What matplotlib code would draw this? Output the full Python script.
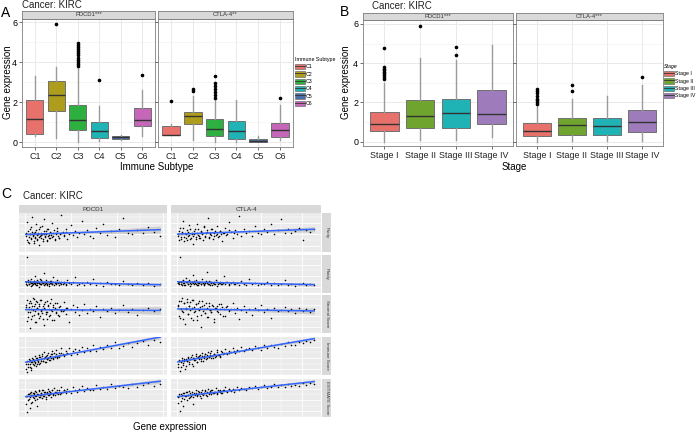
import numpy as np
import matplotlib.pyplot as plt
from matplotlib.patches import Patch
from matplotlib.lines import Line2D
from matplotlib.ticker import MultipleLocator, FixedLocator

plt.rcParams['font.family'] = ['Liberation Sans', 'DejaVu Sans']

W, H = 697, 433

# ---------------- panel A : expression by immune subtype
subtypes = ['C1', 'C2', 'C3', 'C4', 'C5', 'C6']
sub_colors = ['#E8716B', '#AE9D1C', '#2DB040', '#1FB3B5', '#4C6FA8', '#C566B8']

a_pd_med = [1.17, 2.33, 1.10, 0.57, 0.23, 1.08]
a_pd_q1 = [0.40, 1.55, 0.62, 0.22, 0.15, 0.82]
a_pd_q3 = [2.12, 3.03, 1.85, 0.98, 0.32, 1.72]
a_pd_lo = [0.32, 0.22, 0.00, 0.03, 0.12, 0.28]
a_pd_hi = [3.32, 3.75, 3.70, 1.82, 0.36, 2.62]
a_pd_out = [[], [5.9], [3.8, 3.9, 4.0, 4.1, 4.2, 4.35, 4.45, 4.55, 4.65, 4.75, 4.85, 4.95],
            [3.1], [], [3.35]]

a_ct_med = [0.37, 1.32, 0.65, 0.55, 0.05, 0.62]
a_ct_q1 = [0.35, 0.88, 0.30, 0.13, 0.02, 0.23]
a_ct_q3 = [0.82, 1.50, 1.17, 1.05, 0.17, 0.97]
a_ct_lo = [0.35, 0.08, 0.00, 0.00, 0.00, 0.12]
a_ct_hi = [0.90, 2.32, 2.10, 2.08, 0.28, 1.85]
a_ct_out = [[2.03], [2.53, 2.65], [2.2, 2.35, 2.5, 2.65, 2.8, 2.95, 3.28], [], [], [2.2]]

# ---------------- panel B : expression by stage
stages = ['Stage I', 'Stage II', 'Stage III', 'Stage IV']
stage_colors = ['#E8716B', '#6FA52F', '#1FB3B5', '#9E7BBB']

b_pd_med = [0.90, 1.33, 1.45, 1.39]
b_pd_q1 = [0.53, 0.68, 0.68, 0.90]
b_pd_q3 = [1.53, 2.13, 2.16, 2.64]
b_pd_lo = [0.00, 0.08, 0.08, 0.25]
b_pd_hi = [3.00, 4.25, 4.15, 4.93]
b_pd_out = [[3.18, 3.3, 3.4, 3.5, 3.57, 3.65, 3.72, 3.83, 4.76], [5.9], [4.42, 4.8], []]

b_ct_med = [0.54, 0.87, 0.80, 0.99]
b_ct_q1 = [0.29, 0.36, 0.36, 0.51]
b_ct_q3 = [0.94, 1.19, 1.19, 1.62]
b_ct_lo = [0.00, 0.03, 0.03, 0.05]
b_ct_hi = [1.80, 2.18, 2.35, 2.89]
b_ct_out = [[1.9, 2.0, 2.1, 2.2, 2.35, 2.5, 2.6, 2.7], [2.6, 2.89], [], [3.28]]

# ---------------- panel C : scores vs gene expression (scaled score, 0-1)
score_rows = ['Purity', 'Ploidy', 'Stromal Score', 'Immune Score', 'ESTIMATE Score']

pd_x = [0.02, 0.06, 0.09, 0.13, 0.17, 0.20, 0.24, 0.27, 0.31, 0.34,
        0.38, 0.41, 0.44, 0.48, 0.51, 0.55, 0.58, 0.62, 0.65, 0.69,
        0.72, 0.76, 0.80, 0.83, 0.87, 0.91, 0.95, 0.99, 1.03, 1.07,
        1.11, 1.16, 1.20, 1.25, 1.30, 1.35, 1.40, 1.46, 1.52, 1.58,
        1.64, 1.70, 1.77, 1.84, 1.92, 2.00, 2.08, 2.17, 2.26, 2.36,
        2.47, 2.58, 2.70, 2.83, 2.96, 3.10, 3.25, 3.40, 3.56, 3.73,
        3.90, 4.08, 4.27, 4.47, 4.68, 4.90, 5.13, 5.37, 5.62, 5.90,
        0.05, 0.11, 0.15, 0.19, 0.22, 0.26, 0.29, 0.33, 0.36, 0.40,
        0.43, 0.46, 0.50, 0.53, 0.57, 0.60, 0.64, 0.67, 0.70, 0.74,
        0.78, 0.81, 0.85, 0.89, 0.93, 0.97, 1.01, 1.05, 1.09, 1.14,
        1.18, 1.23, 1.28, 1.33, 1.38, 1.43, 1.49, 1.55, 1.68, 1.80]
pd_purity = [0.42, 0.78, 0.31, 0.55, 0.22, 0.47, 0.63, 0.36, 0.91, 0.44,
             0.28, 0.52, 0.39, 0.71, 0.34, 0.46, 0.18, 0.58, 0.41, 0.49,
             0.66, 0.33, 0.45, 0.84, 0.38, 0.53, 0.27, 0.60, 0.43, 0.35,
             0.50, 0.74, 0.40, 0.56, 0.30, 0.48, 0.62, 0.37, 0.45, 0.95,
             0.52, 0.41, 0.58, 0.33, 0.47, 0.69, 0.44, 0.55, 0.38, 0.50,
             0.80, 0.46, 0.57, 0.42, 0.35, 0.61, 0.49, 0.72, 0.44, 0.53,
             0.39, 0.60, 0.88, 0.50, 0.45, 0.56, 0.48, 0.64, 0.52, 0.42,
             0.50, 0.26, 0.38, 0.60, 0.45, 0.33, 0.52, 0.41, 0.24, 0.48,
             0.36, 0.57, 0.43, 0.30, 0.50, 0.39, 0.65, 0.44, 0.35, 0.47,
             0.29, 0.54, 0.40, 0.46, 0.32, 0.58, 0.42, 0.37, 0.51, 0.44,
             0.39, 0.49, 0.34, 0.45, 0.55, 0.41, 0.36, 0.48, 0.43, 0.52]
pd_ploidy = [0.28, 0.95, 0.22, 0.33, 0.25, 0.30, 0.19, 0.36, 0.27, 0.24,
             0.31, 0.45, 0.26, 0.21, 0.34, 0.29, 0.17, 0.27, 0.38, 0.23,
             0.30, 0.26, 0.52, 0.20, 0.28, 0.33, 0.24, 0.29, 0.18, 0.27,
             0.31, 0.25, 0.42, 0.22, 0.28, 0.26, 0.35, 0.21, 0.27, 0.30,
             0.24, 0.28, 0.20, 0.33, 0.26, 0.23, 0.29, 0.41, 0.22, 0.25,
             0.27, 0.20, 0.30, 0.24, 0.36, 0.22, 0.26, 0.19, 0.28, 0.23,
             0.25, 0.21, 0.32, 0.24, 0.20, 0.27, 0.22, 0.26, 0.18, 0.24,
             0.25, 0.30, 0.23, 0.28, 0.32, 0.26, 0.22, 0.29, 0.27, 0.31,
             0.24, 0.28, 0.26, 0.21, 0.30, 0.27, 0.25, 0.33, 0.23, 0.28,
             0.26, 0.30, 0.24, 0.27, 0.29, 0.22, 0.28, 0.25, 0.31, 0.26,
             0.24, 0.29, 0.27, 0.23, 0.28, 0.26, 0.30, 0.25, 0.27, 0.24]
pd_stromal = [0.75, 0.32, 0.88, 0.55, 0.68, 0.12, 0.80, 0.62, 0.45, 0.92,
              0.70, 0.58, 0.28, 0.83, 0.66, 0.50, 0.77, 0.40, 0.86, 0.60,
              0.52, 0.72, 0.20, 0.65, 0.81, 0.56, 0.38, 0.74, 0.63, 0.48,
              0.90, 0.59, 0.69, 0.34, 0.78, 0.54, 0.64, 0.44, 0.71, 0.60,
              0.57, 0.82, 0.50, 0.66, 0.30, 0.62, 0.73, 0.55, 0.68, 0.47,
              0.60, 0.76, 0.53, 0.64, 0.58, 0.70, 0.42, 0.62, 0.57, 0.67,
              0.52, 0.61, 0.74, 0.56, 0.63, 0.48, 0.60, 0.66, 0.58, 0.64,
              0.68, 0.42, 0.79, 0.55, 0.85, 0.36, 0.72, 0.60, 0.90, 0.48,
              0.76, 0.30, 0.66, 0.82, 0.52, 0.70, 0.44, 0.87, 0.58, 0.64,
              0.38, 0.77, 0.62, 0.50, 0.84, 0.56, 0.71, 0.46, 0.80, 0.60,
              0.34, 0.73, 0.65, 0.53, 0.78, 0.47, 0.69, 0.57, 0.61, 0.66]
pd_immune = [0.15, 0.38, 0.08, 0.30, 0.42, 0.22, 0.35, 0.12, 0.45, 0.28,
             0.40, 0.33, 0.50, 0.25, 0.44, 0.36, 0.52, 0.30, 0.47, 0.41,
             0.55, 0.38, 0.46, 0.60, 0.35, 0.50, 0.43, 0.58, 0.48, 0.40,
             0.54, 0.62, 0.45, 0.57, 0.50, 0.66, 0.48, 0.59, 0.53, 0.70,
             0.55, 0.49, 0.64, 0.58, 0.72, 0.52, 0.62, 0.68, 0.56, 0.66,
             0.75, 0.60, 0.70, 0.64, 0.80, 0.62, 0.74, 0.68, 0.78, 0.70,
             0.86, 0.72, 0.77, 0.84, 0.74, 0.83, 0.90, 0.80, 0.93, 0.88,
             0.30, 0.22, 0.36, 0.28, 0.40, 0.18, 0.34, 0.42, 0.26, 0.38,
             0.32, 0.45, 0.29, 0.40, 0.35, 0.48, 0.31, 0.43, 0.38, 0.50,
             0.36, 0.44, 0.47, 0.33, 0.52, 0.41, 0.46, 0.39, 0.50, 0.44,
             0.54, 0.42, 0.48, 0.56, 0.45, 0.51, 0.47, 0.58, 0.52, 0.55]
pd_estimate = [0.35, 0.55, 0.12, 0.60, 0.48, 0.25, 0.58, 0.65, 0.40, 0.53,
               0.62, 0.45, 0.68, 0.56, 0.30, 0.60, 0.52, 0.70, 0.57, 0.64,
               0.50, 0.72, 0.60, 0.55, 0.66, 0.48, 0.62, 0.74, 0.58, 0.65,
               0.53, 0.70, 0.61, 0.76, 0.57, 0.67, 0.63, 0.72, 0.60, 0.78,
               0.66, 0.70, 0.62, 0.75, 0.68, 0.64, 0.80, 0.70, 0.66, 0.74,
               0.82, 0.68, 0.76, 0.72, 0.70, 0.84, 0.74, 0.78, 0.73, 0.86,
               0.77, 0.82, 0.80, 0.76, 0.88, 0.80, 0.84, 0.90, 0.82, 0.87,
               0.55, 0.45, 0.60, 0.52, 0.62, 0.38, 0.57, 0.64, 0.50, 0.60,
               0.54, 0.66, 0.48, 0.61, 0.58, 0.68, 0.53, 0.63, 0.59, 0.70,
               0.56, 0.65, 0.60, 0.52, 0.67, 0.62, 0.58, 0.69, 0.61, 0.64,
               0.70, 0.57, 0.66, 0.62, 0.71, 0.60, 0.67, 0.64, 0.72, 0.68]

ct_x = [0.01, 0.03, 0.06, 0.08, 0.11, 0.13, 0.16, 0.18, 0.21, 0.24,
        0.26, 0.29, 0.31, 0.34, 0.37, 0.39, 0.42, 0.45, 0.47, 0.50,
        0.53, 0.56, 0.58, 0.61, 0.64, 0.67, 0.70, 0.73, 0.76, 0.79,
        0.82, 0.86, 0.89, 0.92, 0.96, 0.99, 1.03, 1.07, 1.11, 1.15,
        1.19, 1.23, 1.28, 1.33, 1.38, 1.43, 1.48, 1.54, 1.60, 1.66,
        1.72, 1.79, 1.86, 1.93, 2.00, 2.08, 2.16, 2.24, 2.33, 2.42,
        2.50, 2.58, 2.66, 2.74, 2.83, 2.92, 3.01, 3.10, 3.20, 3.29,
        0.02, 0.05, 0.09, 0.12, 0.14, 0.17, 0.20, 0.23, 0.25, 0.28,
        0.30, 0.33, 0.35, 0.38, 0.41, 0.44, 0.46, 0.49, 0.52, 0.55,
        0.57, 0.60, 0.63, 0.66, 0.69, 0.72, 0.75, 0.78, 0.81, 0.84,
        0.88, 0.91, 0.95, 0.98, 1.02, 1.06, 1.10, 1.17, 1.25, 1.36]
ct_purity = [0.45, 0.30, 0.62, 0.38, 0.52, 0.80, 0.27, 0.48, 0.35, 0.57,
             0.42, 0.68, 0.33, 0.50, 0.21, 0.46, 0.59, 0.39, 0.73, 0.44,
             0.36, 0.55, 0.49, 0.30, 0.64, 0.41, 0.52, 0.87, 0.38, 0.47,
             0.58, 0.34, 0.50, 0.43, 0.66, 0.40, 0.53, 0.29, 0.48, 0.61,
             0.45, 0.76, 0.51, 0.37, 0.56, 0.46, 0.93, 0.42, 0.60, 0.49,
             0.54, 0.40, 0.67, 0.50, 0.45, 0.58, 0.52, 0.71, 0.47, 0.56,
             0.85, 0.50, 0.60, 0.48, 0.55, 0.62, 0.30, 0.57, 0.52, 0.59,
             0.41, 0.55, 0.34, 0.48, 0.62, 0.38, 0.45, 0.30, 0.52, 0.43,
             0.58, 0.36, 0.47, 0.40, 0.54, 0.33, 0.49, 0.60, 0.42, 0.37,
             0.51, 0.45, 0.66, 0.39, 0.48, 0.56, 0.35, 0.50, 0.44, 0.59,
             0.41, 0.53, 0.47, 0.38, 0.55, 0.46, 0.50, 0.43, 0.57, 0.48]
ct_ploidy = [0.27, 0.23, 0.94, 0.30, 0.20, 0.34, 0.26, 0.22, 0.39, 0.28,
             0.25, 0.31, 0.18, 0.29, 0.48, 0.24, 0.27, 0.33, 0.21, 0.26,
             0.30, 0.23, 0.36, 0.27, 0.20, 0.29, 0.55, 0.25, 0.31, 0.22,
             0.28, 0.26, 0.24, 0.33, 0.19, 0.27, 0.30, 0.23, 0.44, 0.25,
             0.28, 0.21, 0.26, 0.30, 0.24, 0.27, 0.20, 0.32, 0.25, 0.22,
             0.38, 0.24, 0.27, 0.21, 0.25, 0.23, 0.29, 0.20, 0.26, 0.22,
             0.24, 0.33, 0.21, 0.25, 0.19, 0.23, 0.26, 0.21, 0.24, 0.22,
             0.26, 0.29, 0.24, 0.31, 0.27, 0.22, 0.28, 0.30, 0.25, 0.33,
             0.27, 0.23, 0.29, 0.26, 0.31, 0.24, 0.28, 0.21, 0.27, 0.30,
             0.25, 0.28, 0.23, 0.26, 0.32, 0.27, 0.24, 0.29, 0.26, 0.22,
             0.28, 0.25, 0.30, 0.24, 0.27, 0.23, 0.26, 0.29, 0.25, 0.24]
ct_stromal = [0.70, 0.85, 0.40, 0.62, 0.93, 0.55, 0.78, 0.25, 0.66, 0.81,
              0.50, 0.72, 0.60, 0.88, 0.35, 0.68, 0.57, 0.76, 0.46, 0.64,
              0.83, 0.15, 0.70, 0.58, 0.74, 0.52, 0.67, 0.42, 0.79, 0.61,
              0.55, 0.71, 0.30, 0.65, 0.59, 0.77, 0.50, 0.68, 0.62, 0.45,
              0.72, 0.58, 0.64, 0.80, 0.53, 0.66, 0.38, 0.61, 0.70, 0.56,
              0.63, 0.48, 0.67, 0.60, 0.74, 0.55, 0.62, 0.40, 0.65, 0.58,
              0.60, 0.68, 0.57, 0.63, 0.52, 0.66, 0.59, 0.62, 0.55, 0.64,
              0.73, 0.45, 0.84, 0.58, 0.36, 0.78, 0.62, 0.90, 0.50, 0.70,
              0.82, 0.40, 0.66, 0.86, 0.54, 0.77, 0.33, 0.80, 0.60, 0.68,
              0.48, 0.83, 0.64, 0.52, 0.79, 0.42, 0.72, 0.61, 0.56, 0.74,
              0.38, 0.65, 0.70, 0.55, 0.62, 0.76, 0.46, 0.69, 0.60, 0.63]
ct_immune = [0.20, 0.40, 0.10, 0.33, 0.45, 0.27, 0.38, 0.15, 0.42, 0.36,
             0.48, 0.30, 0.41, 0.52, 0.25, 0.46, 0.39, 0.55, 0.33, 0.47,
             0.50, 0.42, 0.58, 0.37, 0.49, 0.54, 0.44, 0.60, 0.47, 0.52,
             0.63, 0.45, 0.56, 0.50, 0.66, 0.53, 0.48, 0.61, 0.57, 0.68,
             0.55, 0.64, 0.60, 0.70, 0.58, 0.66, 0.62, 0.74, 0.63, 0.68,
             0.72, 0.65, 0.76, 0.70, 0.66, 0.78, 0.72, 0.80, 0.75, 0.70,
             0.82, 0.77, 0.86, 0.80, 0.78, 0.88, 0.84, 0.90, 0.86, 0.93,
             0.28, 0.36, 0.20, 0.40, 0.32, 0.43, 0.25, 0.38, 0.46, 0.33,
             0.41, 0.48, 0.30, 0.44, 0.39, 0.50, 0.35, 0.47, 0.42, 0.53,
             0.38, 0.49, 0.45, 0.55, 0.41, 0.52, 0.47, 0.58, 0.44, 0.51,
             0.56, 0.48, 0.60, 0.53, 0.50, 0.62, 0.55, 0.59, 0.57, 0.63]
ct_estimate = [0.38, 0.56, 0.15, 0.60, 0.50, 0.28, 0.62, 0.54, 0.66, 0.45,
               0.58, 0.68, 0.52, 0.61, 0.35, 0.64, 0.57, 0.70, 0.55, 0.60,
               0.66, 0.50, 0.72, 0.58, 0.63, 0.69, 0.56, 0.74, 0.60, 0.65,
               0.70, 0.62, 0.67, 0.76, 0.60, 0.68, 0.72, 0.64, 0.70, 0.78,
               0.66, 0.73, 0.69, 0.75, 0.70, 0.80, 0.72, 0.77, 0.74, 0.71,
               0.79, 0.76, 0.82, 0.73, 0.78, 0.84, 0.77, 0.80, 0.86, 0.79,
               0.83, 0.80, 0.88, 0.82, 0.85, 0.81, 0.89, 0.84, 0.90, 0.87,
               0.52, 0.60, 0.42, 0.57, 0.63, 0.48, 0.55, 0.65, 0.58, 0.50,
               0.62, 0.56, 0.67, 0.53, 0.60, 0.64, 0.57, 0.69, 0.61, 0.55,
               0.66, 0.60, 0.63, 0.70, 0.58, 0.65, 0.62, 0.68, 0.60, 0.71,
               0.64, 0.67, 0.62, 0.72, 0.66, 0.63, 0.70, 0.68, 0.73, 0.66]

fig = plt.figure(figsize=(W / 100, H / 100), dpi=100)


def px_axes(x0, y0, x1, y1):
    return fig.add_axes([x0 / W, 1 - y1 / H, (x1 - x0) / W, (y1 - y0) / H])


def strip(x0, y0, x1, y1, label, border=True, rot=0, fs=4.2):
    s = px_axes(x0, y0, x1, y1)
    s.set_facecolor('#D9D9D9')
    s.set_xticks([])
    s.set_yticks([])
    for sp in s.spines.values():
        sp.set_visible(border)
        sp.set_color('#7f7f7f')
        sp.set_linewidth(0.6)
    s.text(0.5, 0.5, label, ha='center', va='center', fontsize=fs,
           color='#333333', rotation=rot, transform=s.transAxes)


def box_facet(ax, labels, colors, med, q1, q3, lo, hi, out, ylim, show_y):
    stats = []
    for i in range(len(labels)):
        stats.append(dict(med=med[i], q1=q1[i], q3=q3[i], whislo=lo[i],
                          whishi=hi[i], fliers=out[i]))
    bp = ax.bxp(stats, positions=range(1, len(labels) + 1), widths=0.8,
                patch_artist=True, showcaps=False,
                boxprops=dict(edgecolor='#707070', linewidth=0.7),
                whiskerprops=dict(color='#9a9a9a', linewidth=1.0),
                medianprops=dict(color='#333333', linewidth=1.0),
                flierprops=dict(marker='o', markersize=1.6, markerfacecolor='black',
                                markeredgecolor='black', linestyle='none'))
    for patch, c in zip(bp['boxes'], colors):
        patch.set_facecolor(c)
    ax.set_xlim(0.4, len(labels) + 0.6)
    ax.set_ylim(*ylim)
    ax.set_xticks(range(1, len(labels) + 1))
    ax.set_xticklabels(labels, fontsize=6.4, color='#222222')
    ax.yaxis.set_major_locator(MultipleLocator(2))
    ax.yaxis.set_minor_locator(MultipleLocator(1))
    ax.grid(which='major', color='#E6E6E6', linewidth=0.6)
    ax.grid(which='minor', axis='y', color='#F0F0F0', linewidth=0.4)
    ax.set_axisbelow(True)
    ax.tick_params(which='both', length=2, width=0.5, color='#333333', pad=1.5,
                   labelsize=6.4)
    ax.tick_params(which='minor', length=0)
    if not show_y:
        ax.set_yticklabels([])
    for sp in ax.spines.values():
        sp.set_color('#7f7f7f')
        sp.set_linewidth(0.6)


# ---------- panel A
ax = px_axes(22, 19, 155, 147)
box_facet(ax, subtypes, sub_colors, a_pd_med, a_pd_q1, a_pd_q3, a_pd_lo, a_pd_hi,
          a_pd_out, (-0.25, 6.15), True)
strip(22, 11, 155, 19, 'PDCD1***')
ax = px_axes(158, 19, 293, 147)
box_facet(ax, subtypes, sub_colors, a_ct_med, a_ct_q1, a_ct_q3, a_ct_lo, a_ct_hi,
          a_ct_out, (-0.25, 6.15), False)
strip(158, 11, 293, 19, 'CTLA-4**')

# ---------- panel B
ax = px_axes(363, 20, 513, 146)
box_facet(ax, stages, stage_colors, b_pd_med, b_pd_q1, b_pd_q3, b_pd_lo, b_pd_hi,
          b_pd_out, (-0.22, 6.2), True)
strip(363, 13, 513, 20, 'PDCD1***')
ax = px_axes(516, 20, 663, 146)
box_facet(ax, stages, stage_colors, b_ct_med, b_ct_q1, b_ct_q3, b_ct_lo, b_ct_hi,
          b_ct_out, (-0.22, 6.2), False)
strip(516, 13, 663, 20, 'CTLA-4***')


def box_legend(labels, colors, title, x, y, italic=False):
    handles = [(Patch(facecolor=c, edgecolor='#707070', linewidth=0.5),
                Line2D([], [], color='#333333', linewidth=0.6)) for c in colors]
    leg = fig.legend(handles, labels, loc='upper left',
                     bbox_to_anchor=(x / W, 1 - y / H), frameon=False,
                     fontsize=3.8, title=title, title_fontsize=3.8,
                     handlelength=1.8, handleheight=1.2, labelspacing=0.35,
                     handletextpad=0.3, borderpad=0, borderaxespad=0)
    leg._legend_box.align = 'left'
    if italic:
        leg.get_title().set_fontstyle('italic')
    return leg


box_legend(subtypes, sub_colors, 'Immune Subtype', 295, 57)
box_legend(stages, stage_colors, 'Stage', 664, 64, italic=True)

# ---------- panel C
pd_rows = [pd_purity, pd_ploidy, pd_stromal, pd_immune, pd_estimate]
ct_rows = [ct_purity, ct_ploidy, ct_stromal, ct_immune, ct_estimate]
col_x = [pd_x, ct_x]
col_rows = [pd_rows, ct_rows]
col_px = [(19, 167), (171, 321)]
row_px = [(213, 252), (255, 293), (295, 333), (337, 375), (379, 417)]
col_names = ['PDCD1', 'CTLA-4']
x_major = [2, 1]
x_minor = [1, 0.5]

for ci in range(2):
    x = np.array(col_x[ci])
    span = x.max() - x.min()
    for ri in range(5):
        y = np.array(col_rows[ci][ri])
        a = px_axes(col_px[ci][0], row_px[ri][0], col_px[ci][1], row_px[ri][1])
        a.set_facecolor('#EBEBEB')
        a.scatter(x, y, s=1.3, color='black', linewidths=0, zorder=3)
        # linear fit with confidence band
        k, b = np.polyfit(x, y, 1)
        xx = np.linspace(x.min(), x.max(), 50)
        res = y - (k * x + b)
        n = len(x)
        s = np.sqrt(np.sum(res ** 2) / (n - 2))
        se = s * np.sqrt(1 / n + (xx - x.mean()) ** 2 / np.sum((x - x.mean()) ** 2))
        a.fill_between(xx, k * xx + b - 1.96 * se, k * xx + b + 1.96 * se,
                       color='#999999', alpha=0.35, linewidth=0, zorder=2)
        a.plot(xx, k * xx + b, color='#3366FF', linewidth=1.1, zorder=4)
        a.set_xlim(x.min() - 0.05 * span, x.max() + 0.05 * span)
        a.set_ylim(0, 1)
        a.xaxis.set_major_locator(MultipleLocator(x_major[ci]))
        a.xaxis.set_minor_locator(MultipleLocator(x_minor[ci]))
        a.yaxis.set_major_locator(FixedLocator([0.15, 0.45, 0.75]))
        a.yaxis.set_minor_locator(FixedLocator([0.0, 0.3, 0.6, 0.9]))
        a.grid(which='major', color='white', linewidth=0.6)
        a.grid(which='minor', color='white', linewidth=0.3)
        a.set_axisbelow(True)
        a.tick_params(which='both', length=0, labelbottom=False, labelleft=False)
        for sp in a.spines.values():
            sp.set_visible(False)
        if ci == 1:
            strip(322, row_px[ri][0], 331, row_px[ri][1], score_rows[ri],
                  border=False, rot=-90, fs=3.2)
    strip(col_px[ci][0], 205, col_px[ci][1], 213, col_names[ci], border=False, fs=4.5)

# ---------- panel letters, titles, axis labels
fig.text(1 / W, 1 - 13 / H, 'A', fontsize=10, va='center', ha='left')
fig.text(340 / W, 1 - 12 / H, 'B', fontsize=10, va='center', ha='left')
fig.text(1 / W, 1 - 194 / H, 'C', fontsize=10, va='center', ha='left')
fig.text(22 / W, 1 - 5 / H, 'Cancer: KIRC', fontsize=7, va='center', ha='left', color='#222222')
fig.text(372 / W, 1 - 6 / H, 'Cancer: KIRC', fontsize=7, va='center', ha='left', color='#222222')
fig.text(23 / W, 1 - 196 / H, 'Cancer: KIRC', fontsize=7, va='center', ha='left', color='#222222')
fig.text(8 / W, 1 - 82 / H, 'Gene expression', fontsize=7, rotation=90, va='center', ha='center')
fig.text(346 / W, 1 - 82 / H, 'Gene expression', fontsize=7, rotation=90, va='center', ha='center')
fig.text(157 / W, 1 - 167 / H, 'Immune Subtype', fontsize=7, va='center', ha='center')
fig.text(514 / W, 1 - 167 / H, 'Stage', fontsize=7, va='center', ha='center')
fig.text(170 / W, 1 - 427 / H, 'Gene expression', fontsize=7, va='center', ha='center')

fig.savefig('out.png', dpi=100)
